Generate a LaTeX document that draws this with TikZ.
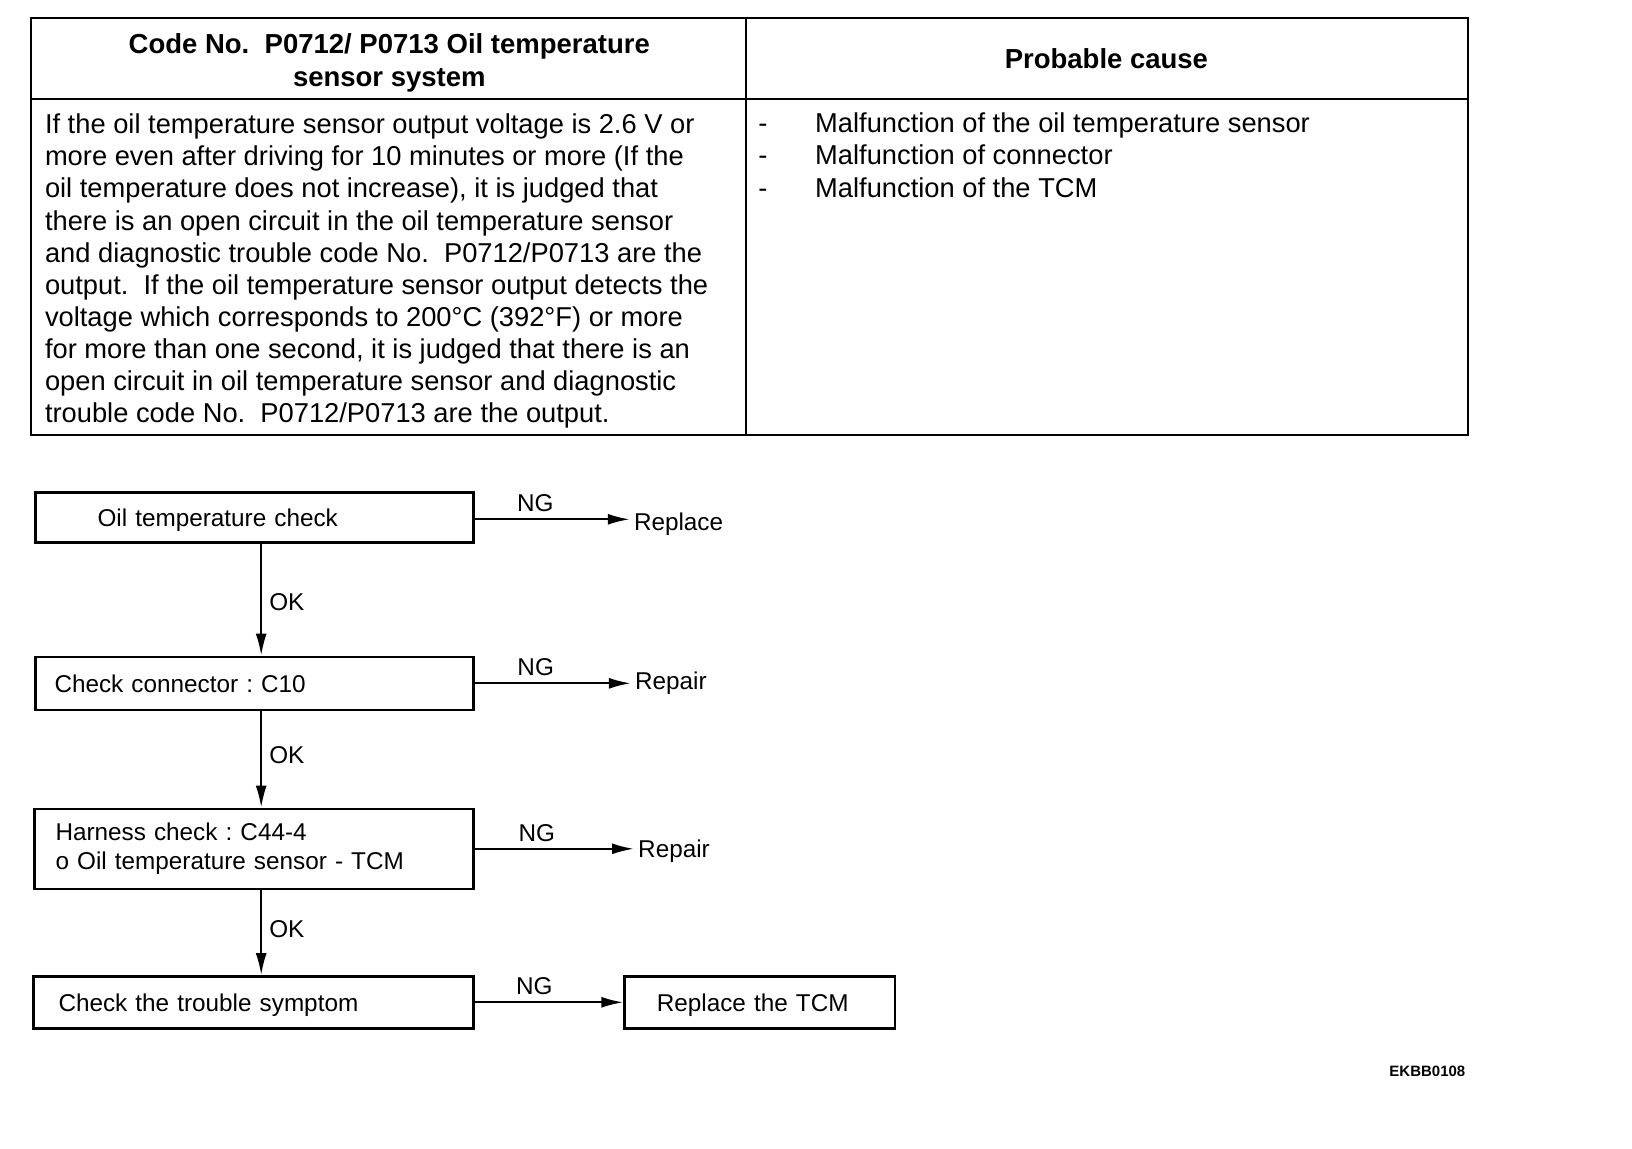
\documentclass[tikz,border=0pt]{standalone}
\usepackage{fontspec}
\setmainfont{Liberation Sans}
\usetikzlibrary{arrows.meta}
\frenchspacing
\begin{document}
\begin{tikzpicture}[x=1pt,y=-1pt,
  tbl/.style={line width=2pt},
  box/.style={draw,line width=2.4pt,rectangle,align=left,font=\fontsize{24.3}{30.2}\selectfont},
  one/.style={text height=22pt,text depth=3.4pt},
  arr/.style={line width=2.2pt,-{Latex[length=22pt,width=11pt]}},
  lbl/.style={inner sep=0pt,font=\fontsize{24.3}{29}\selectfont},
  body/.style={inner sep=0pt,anchor=base west,font=\fontsize{27.3}{32}\selectfont},
  head/.style={inner sep=0pt,anchor=base,font=\fontsize{27.5}{32}\selectfont\bfseries}]
\useasboundingbox (0,0) rectangle (1632,1148);
\fill[white] (0,0) rectangle (1632,1148);

% table
\draw[tbl] (31.2,17.7) rectangle (1467.5,435.1);
\draw[tbl] (31.2,98.9) -- (1467.5,98.9);
\draw[tbl] (746.3,17.7) -- (746.3,435.1);

\node[head] (h1) at (389.3,53.7) {Code No.\ \ P0712/ P0713 Oil temperature};
\node[head] (h2) at (389.3,86) {sensor system};
\node[head] (h3) at (1106.4,68.3) {Probable cause};

\foreach \t [count=\i] in {
  {If the oil temperature sensor output voltage is 2.6 V or},
  {more even after driving for 10 minutes or more (If the},
  {oil temperature does not increase), it is judged that},
  {there is an open circuit in the oil temperature sensor},
  {and diagnostic trouble code No.\ \ P0712/P0713 are the},
  {output.\ \ If the oil temperature sensor output detects the},
  {voltage which corresponds to 200°C (392°F) or more},
  {for more than one second, it is judged that there is an},
  {open circuit in oil temperature sensor and diagnostic},
  {trouble code No.\ \ P0712/P0713 are the output.}}
  \node[body] (l\i) at (44.8,{133.7+(\i-1)*32.1}) {\t};

\foreach \t [count=\i] in {
  {Malfunction of the oil temperature sensor},
  {Malfunction of connector},
  {Malfunction of the TCM}}{
  \node[body,anchor=base] (d\i) at (763,{132.6+(\i-1)*32.2}) {-};
  \node[body] (c\i) at (815,{132.6+(\i-1)*32.2}) {\t};
}

% flowchart
\node[box,one,minimum width=438.2pt,minimum height=50pt,text width=314pt,inner xsep=62pt] (b1) at (254.5,517.3) {Oil temperature check};
\node[box,one,minimum width=438.2pt,minimum height=53pt,text width=400pt,inner xsep=19pt] (b2) at (254.5,683.3) {Check connector : C10};
\node[box,minimum width=439.3pt,minimum height=80pt,text width=397pt,inner xsep=21pt] (b3) at (254,848.8) {\raisebox{-2pt}{Harness check : C44-4}\\\raisebox{-1pt}{o Oil temperature sensor - TCM}};
\node[box,one,minimum width=440.3pt,minimum height=52pt,text width=390pt,inner xsep=25pt] (b4) at (253.5,1002.3) {Check the trouble symptom};
\node[box,one,minimum width=270.6pt,minimum height=52pt,text width=206pt,inner xsep=32pt] (b5) at (759.8,1002.3) {Replace the TCM};

\node[lbl,anchor=west] (r1) at (633.8,524.4) {Replace};
\node[lbl,anchor=west] (r2) at (634.9,683.7) {Repair};
\node[lbl,anchor=west] (r3) at (638,851.3) {Repair};

\draw[arr] ([yshift=-2pt]b1.east) -- node[lbl,pos=0.39,above=6pt] (n1) {NG} ([xshift=-4pt,yshift=-2pt]b1.east -| r1.west);
\draw[arr] (b2.east) -- node[lbl,pos=0.39,above=6pt] (n2) {NG} ([xshift=-4pt]b2.east -| r2.west);
\draw[arr] (b3.east) -- node[lbl,pos=0.39,above=6pt] (n3) {NG} ([xshift=-4pt]b3.east -| r3.west);
\draw[arr] (b4.east) -- node[lbl,pos=0.40,above=6pt] (n4) {NG} (b5.west);

\coordinate (vx) at (261.2,0);
\draw[arr] (b1.south -| vx) -- node[lbl,pos=0.5,right=7pt,yshift=-3pt] (o1) {OK} (b2.north -| vx);
\draw[arr] (b2.south -| vx) -- node[lbl,pos=0.43,right=7pt,yshift=-3pt] (o2) {OK} (b3.north -| vx);
\draw[arr] (b3.south -| vx) -- node[lbl,pos=0.42,right=7pt,yshift=-3pt] (o3) {OK} (b4.north -| vx);

\node[inner sep=0pt,anchor=base east,font=\fontsize{15}{18}\selectfont\bfseries] (code) at (1465.5,1076) {EKBB0108};
\end{tikzpicture}
\end{document}
